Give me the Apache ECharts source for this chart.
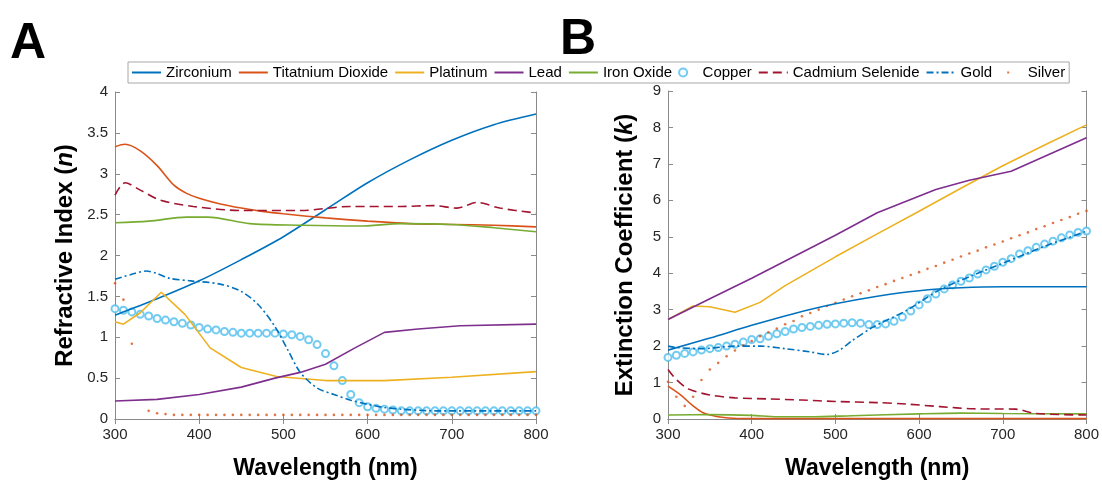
<!DOCTYPE html>
<html><head><meta charset="utf-8">
<script src="https://cdn.jsdelivr.net/npm/echarts@6/dist/echarts.min.js"></script>
<style>html,body{margin:0;padding:0;background:#fff}#c{width:1102px;height:485px}</style>
</head><body><div id="c"></div>
<script>
const FONT = 'Liberation Sans';
const xTicks = [300, 400, 500, 600, 700, 800];
const nTicks = [0, 0.5, 1, 1.5, 2, 2.5, 3, 3.5, 4];
const kTicks = [0, 1, 2, 3, 4, 5, 6, 7, 8, 9];
const names = ['Zirconium', 'Titatnium Dioxide', 'Platinum', 'Lead', 'Iron Oxide', 'Copper', 'Cadmium Selenide', 'Gold', 'Silver'];

// ---------- Panel A: refractive index n ----------
const zrN_x = [300, 350, 400, 450, 500, 550, 600, 650, 700, 750, 800];
const zrN_y = [1.27, 1.47, 1.69, 1.95, 2.23, 2.56, 2.89, 3.17, 3.41, 3.60, 3.73];
const tiN_x = [300, 312, 330, 350, 370, 385, 400, 425, 450, 475, 500, 550, 600, 650, 700, 750, 800];
const tiN_y = [3.33, 3.36, 3.28, 3.10, 2.86, 2.76, 2.70, 2.63, 2.58, 2.54, 2.51, 2.46, 2.42, 2.39, 2.38, 2.37, 2.35];
const ptN_x = [300, 310, 330, 355, 383, 413, 450, 492, 550, 620, 700, 800];
const ptN_y = [1.19, 1.16, 1.30, 1.55, 1.28, 0.87, 0.63, 0.52, 0.47, 0.47, 0.51, 0.58];
const pbN_x = [300, 350, 400, 450, 490, 520, 550, 585, 620, 660, 710, 800];
const pbN_y = [0.22, 0.24, 0.30, 0.39, 0.50, 0.57, 0.67, 0.87, 1.06, 1.10, 1.14, 1.16];
const feN_x = [300, 340, 385, 410, 460, 520, 590, 640, 700, 750, 800];
const feN_y = [2.40, 2.42, 2.47, 2.47, 2.39, 2.37, 2.36, 2.39, 2.38, 2.34, 2.29];
const cuN_x = [300, 310, 320, 330, 340, 350, 360, 370, 380, 390, 400, 410, 420, 430, 440, 450, 460, 470, 480, 490, 500, 510, 520, 530, 540, 550, 560, 570, 580, 590, 600, 610, 620, 630, 640, 650, 660, 670, 680, 690, 700, 710, 720, 730, 740, 750, 760, 770, 780, 790, 800];
const cuN_y = [1.35, 1.33, 1.31, 1.28, 1.26, 1.23, 1.21, 1.19, 1.17, 1.15, 1.12, 1.10, 1.09, 1.07, 1.06, 1.05, 1.05, 1.05, 1.05, 1.05, 1.04, 1.03, 1.01, 0.97, 0.91, 0.80, 0.65, 0.47, 0.30, 0.20, 0.15, 0.13, 0.12, 0.11, 0.10, 0.10, 0.10, 0.10, 0.10, 0.10, 0.10, 0.10, 0.10, 0.10, 0.10, 0.10, 0.10, 0.10, 0.10, 0.10, 0.10];
const cdN_x = [300, 312, 330, 353, 393, 452, 520, 579, 640, 678, 706, 730, 757, 800];
const cdN_y = [2.74, 2.89, 2.80, 2.68, 2.60, 2.55, 2.55, 2.60, 2.60, 2.61, 2.58, 2.65, 2.58, 2.52];
const auN_x = [300, 320, 337, 350, 365, 390, 425, 450, 470, 490, 505, 520, 540, 560, 580, 600, 620, 640, 680, 800];
const auN_y = [1.71, 1.77, 1.81, 1.78, 1.72, 1.69, 1.65, 1.56, 1.40, 1.13, 0.85, 0.57, 0.38, 0.30, 0.23, 0.18, 0.14, 0.12, 0.10, 0.10];
const agN_x = [300, 310, 320, 330, 340, 350, 360, 370, 380, 390, 400, 410, 420, 430, 440, 450, 460, 470, 480, 490, 500, 510, 520, 530, 540, 550, 560, 570, 580, 590, 600, 610, 620, 630, 640, 650, 660, 670, 680, 690, 700, 710, 720, 730, 740, 750, 760, 770, 780, 790, 800];
const agN_y = [1.66, 1.46, 0.92, null, 0.10, 0.07, 0.06, 0.05, 0.05, 0.05, 0.05, 0.05, 0.05, 0.05, 0.05, 0.05, 0.05, 0.05, 0.05, 0.05, 0.05, 0.05, 0.05, 0.05, 0.05, 0.05, 0.05, 0.05, 0.05, 0.05, 0.05, 0.05, 0.05, 0.05, 0.05, 0.05, 0.05, 0.05, 0.05, 0.05, 0.05, 0.05, 0.05, 0.05, 0.05, 0.05, 0.05, 0.05, 0.05, 0.05, 0.05];

// ---------- Panel B: extinction coefficient k ----------
const zrK_x = [300, 350, 400, 450, 500, 550, 600, 650, 700, 800];
const zrK_y = [1.89, 2.22, 2.57, 2.89, 3.16, 3.37, 3.52, 3.60, 3.63, 3.63];
const tiK_x = [300, 315, 330, 342, 358, 378, 400, 500, 600, 700, 800];
const tiK_y = [0.90, 0.66, 0.36, 0.17, 0.07, 0.02, 0.01, 0.01, 0.01, 0.01, 0.01];
const ptK_x = [300, 330, 350, 380, 410, 440, 500, 550, 600, 650, 700, 750, 800];
const ptK_y = [2.73, 3.10, 3.08, 2.93, 3.20, 3.66, 4.45, 5.08, 5.70, 6.33, 6.95, 7.52, 8.07];
const pbK_x = [300, 350, 400, 450, 500, 550, 620, 660, 710, 800];
const pbK_y = [2.73, 3.30, 3.86, 4.45, 5.04, 5.66, 6.30, 6.55, 6.80, 7.72];
const feK_x = [300, 350, 400, 430, 470, 520, 600, 650, 700, 800];
const feK_y = [0.11, 0.12, 0.10, 0.06, 0.06, 0.09, 0.14, 0.16, 0.15, 0.14];
const cuK_x = cuN_x;
const cuK_y = [1.69, 1.75, 1.80, 1.84, 1.89, 1.93, 1.96, 2.00, 2.05, 2.11, 2.18, 2.20, 2.27, 2.34, 2.40, 2.47, 2.51, 2.54, 2.57, 2.60, 2.61, 2.63, 2.64, 2.63, 2.59, 2.59, 2.61, 2.68, 2.80, 2.96, 3.13, 3.30, 3.43, 3.57, 3.68, 3.78, 3.87, 3.98, 4.09, 4.19, 4.30, 4.40, 4.53, 4.62, 4.71, 4.80, 4.88, 4.97, 5.05, 5.12, 5.16];
const cdK_x = [300, 310, 325, 350, 380, 420, 460, 500, 550, 585, 625, 665, 715, 740, 800];
const cdK_y = [1.36, 1.08, 0.82, 0.66, 0.58, 0.55, 0.52, 0.48, 0.45, 0.41, 0.34, 0.28, 0.27, 0.15, 0.11];
const auK_x = [300, 310, 340, 380, 410, 440, 470, 490, 505, 520, 545, 585, 625, 665, 705, 750, 800];
const auK_y = [2.00, 1.96, 1.93, 2.00, 2.00, 1.93, 1.84, 1.77, 1.89, 2.15, 2.52, 2.98, 3.55, 3.95, 4.32, 4.74, 5.15];
const agK_x = agN_x;
const agK_y = [1.02, 0.61, 0.36, 0.61, 1.07, 1.36, 1.54, 1.72, 1.88, 2.02, 2.14, 2.27, 2.38, 2.48, 2.60, 2.69, 2.82, 2.91, 3.00, 3.10, 3.19, 3.28, 3.37, 3.45, 3.53, 3.62, 3.70, 3.79, 3.87, 3.95, 4.03, 4.12, 4.20, 4.29, 4.37, 4.46, 4.54, 4.62, 4.71, 4.79, 4.87, 4.96, 5.04, 5.12, 5.21, 5.29, 5.38, 5.46, 5.54, 5.63, 5.71];

const zip = (xs, ys) => xs.map((x, i) => [x, ys[i]]);
const AX = '#8a8a8a';
const LBL = '#262626';

const styles = {
  'Zirconium': { kind: 'line', color: '#0072BD', smooth: 0.3 },
  'Titatnium Dioxide': { kind: 'line', color: '#D95319', smooth: 0.3 },
  'Platinum': { kind: 'line', color: '#EDB120', smooth: 0 },
  'Lead': { kind: 'line', color: '#7E2F8E', smooth: 0 },
  'Iron Oxide': { kind: 'line', color: '#77AC30', smooth: 0.3 },
  'Copper': { kind: 'circle', color: '#4DBEEE' },
  'Cadmium Selenide': { kind: 'line', color: '#A2142F', smooth: 0.3, dash: [9, 5] },
  'Gold': { kind: 'line', color: '#0072BD', smooth: 0.3, dash: [7, 3, 2, 3] },
  'Silver': { kind: 'dot', color: '#D95319' }
};

const panelA = {
  'Zirconium': zip(zrN_x, zrN_y), 'Titatnium Dioxide': zip(tiN_x, tiN_y), 'Platinum': zip(ptN_x, ptN_y),
  'Lead': zip(pbN_x, pbN_y), 'Iron Oxide': zip(feN_x, feN_y), 'Copper': zip(cuN_x, cuN_y),
  'Cadmium Selenide': zip(cdN_x, cdN_y), 'Gold': zip(auN_x, auN_y), 'Silver': zip(agN_x, agN_y).filter(p => p[1] !== null)
};
const panelB = {
  'Zirconium': zip(zrK_x, zrK_y), 'Titatnium Dioxide': zip(tiK_x, tiK_y), 'Platinum': zip(ptK_x, ptK_y),
  'Lead': zip(pbK_x, pbK_y), 'Iron Oxide': zip(feK_x, feK_y), 'Copper': zip(cuK_x, cuK_y),
  'Cadmium Selenide': zip(cdK_x, cdK_y), 'Gold': zip(auK_x, auK_y), 'Silver': zip(agK_x, agK_y)
};

function makeSeries(name, data, xi, yi) {
  const s = styles[name];
  if (s.kind === 'line') {
    return { name, type: 'line', xAxisIndex: xi, yAxisIndex: yi, data, symbol: 'none', smooth: s.smooth,
      lineStyle: { color: s.color, width: 1.6, type: s.dash || 'solid' }, itemStyle: { color: s.color }, animation: false, clip: true };
  }
  if (s.kind === 'circle') {
    return { name, type: 'scatter', xAxisIndex: xi, yAxisIndex: yi, data, symbol: 'emptyCircle', symbolSize: 7,
      itemStyle: { color: s.color, borderColor: s.color, borderWidth: 1.4 }, animation: false };
  }
  return { name, type: 'scatter', xAxisIndex: xi, yAxisIndex: yi, data, symbol: 'circle', symbolSize: 2.6,
    itemStyle: { color: s.color }, animation: false };
}

const series = [];
names.forEach(n => series.push(makeSeries(n, panelA[n], 0, 0)));
names.forEach(n => series.push(makeSeries(n, panelB[n], 2, 2)));

function xAxes(gi) {
  const base = { type: 'value', gridIndex: gi, min: xTicks[0], max: xTicks[xTicks.length - 1], interval: xTicks[1] - xTicks[0],
    axisLine: { show: true, lineStyle: { color: AX, width: 1 } },
    axisTick: { show: true, inside: true, length: 5, lineStyle: { color: AX } }, splitLine: { show: false } };
  return [
    Object.assign({}, base, { position: 'bottom',
      axisLabel: { color: LBL, fontSize: 15, fontFamily: FONT, margin: 8 },
      name: 'Wavelength (nm)', nameLocation: 'middle', nameGap: 38,
      nameTextStyle: { fontSize: 23, fontWeight: 'bold', color: '#000', fontFamily: FONT } }),
    Object.assign({}, base, { position: 'top', axisLabel: { show: false } })
  ];
}
function yAxes(gi, ticks, nameRich, gap) {
  const base = { type: 'value', gridIndex: gi, min: ticks[0], max: ticks[ticks.length - 1], interval: ticks[1] - ticks[0],
    axisLine: { show: true, lineStyle: { color: AX, width: 1 } },
    axisTick: { show: true, inside: true, length: 5, lineStyle: { color: AX } }, splitLine: { show: false } };
  return [
    Object.assign({}, base, { position: 'left',
      axisLabel: { color: LBL, fontSize: 15, fontFamily: FONT, margin: 7 },
      name: nameRich, nameLocation: 'middle', nameGap: gap,
      nameTextStyle: { fontSize: 24, fontWeight: 'bold', color: '#000', fontFamily: FONT,
        rich: { i: { fontSize: 24, fontWeight: 'bold', fontStyle: 'italic', color: '#000', fontFamily: FONT } } } }),
    Object.assign({}, base, { position: 'right', axisLabel: { show: false } })
  ];
}

const option = {
  backgroundColor: '#fff',
  animation: false,
  textStyle: { fontFamily: FONT },
  grid: [
    { left: 115, top: 92, width: 421, height: 329 },
    { left: 668, top: 91, width: 420, height: 330 }
  ],
  xAxis: [...xAxes(0), ...xAxes(1)],
  yAxis: [...yAxes(0, nTicks, 'Refractive Index ({i|n})', 38), ...yAxes(1, kTicks, 'Extinction Coefficient ({i|k})', 31)],
  legend: {
    left: 128, top: 62, orient: 'horizontal', itemWidth: 29, itemHeight: 8, itemGap: 6,
    padding: [3, 4, 3, 3], borderColor: '#a8a8a8', borderWidth: 1, backgroundColor: '#fff',
    textStyle: { fontSize: 15, fontFamily: FONT, color: '#000' },
    data: names.map(n => {
      if (n === 'Silver') return { name: n, icon: 'path://M0,0M20,8M9,3h2v2h-2z' };
      if (styles[n].kind === 'line') return { name: n, itemStyle: { opacity: 0 } };
      return { name: n };
    })
  },
  graphic: [
    { type: 'text', left: 10, top: 19, style: { text: 'A', font: 'bold 50px "Liberation Sans"', fill: '#000' } },
    { type: 'text', left: 560, top: 15, style: { text: 'B', font: 'bold 50px "Liberation Sans"', fill: '#000' } }
  ],
  series
};

const chart = echarts.init(document.getElementById('c'), null, { renderer: 'canvas' });
chart.setOption(option);
</script>
</body></html>
